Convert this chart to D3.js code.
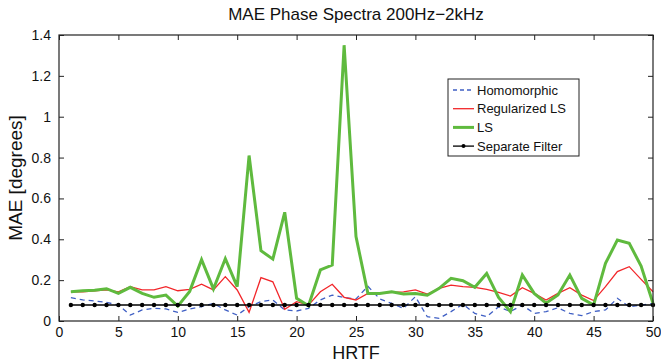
<!DOCTYPE html>
<html><head><meta charset="utf-8">
<script src="https://cdn.jsdelivr.net/npm/d3@7"></script>
<style>body{margin:0;background:#fff}svg{display:block}text{font-family:"Liberation Sans",Arial,sans-serif}</style>
</head><body>
<svg id="c" width="661" height="362"></svg>
<script>
const hrtf = d3.range(1, 51);
const homomorphic = [0.114,0.103,0.098,0.091,0.078,0.029,0.054,0.062,0.059,0.042,
 0.059,0.070,0.086,0.054,0.029,0.070,0.095,0.103,0.054,0.049,
 0.062,0.103,0.127,0.115,0.108,0.170,0.108,0.086,0.062,0.119,
 0.021,0.013,0.046,0.082,0.037,0.021,0.070,0.046,0.078,0.037,
 0.046,0.065,0.037,0.026,0.046,0.054,0.111,0.070,0.078,0.086];
const regularizedLS = [0.143,0.143,0.148,0.152,0.143,0.168,0.152,0.152,0.168,0.148,
 0.155,0.180,0.152,0.217,0.152,0.042,0.212,0.192,0.057,0.095,
 0.078,0.143,0.180,0.116,0.103,0.135,0.135,0.140,0.143,0.152,
 0.132,0.160,0.176,0.168,0.165,0.155,0.140,0.122,0.163,0.135,
 0.103,0.135,0.163,0.127,0.100,0.168,0.242,0.266,0.204,0.143];
const ls = [0.143,0.148,0.150,0.158,0.135,0.165,0.135,0.116,0.127,0.073,
 0.145,0.300,0.157,0.305,0.168,0.810,0.344,0.303,0.532,0.111,
 0.075,0.250,0.274,1.350,0.413,0.135,0.135,0.143,0.132,0.135,
 0.126,0.160,0.209,0.197,0.165,0.233,0.115,0.046,0.225,0.135,
 0.087,0.127,0.225,0.111,0.078,0.282,0.396,0.380,0.269,0.087];
const separateFilter = hrtf.map(() => 0.078);
const xTicks = d3.range(0, 51, 5);
const yTicks = [0, 0.2, 0.4, 0.6, 0.8, 1, 1.2, 1.4];
const seriesNames = ["Homomorphic", "Regularized LS", "LS", "Separate Filter"];

const L = 59, R = 653, T = 35, B = 321;
const svg = d3.select("#c");
const x = d3.scaleLinear().domain([0, 50]).range([L, R]);
const y = d3.scaleLinear().domain([0, 1.4]).range([B, T]);

const fmt = d => d3.format("~g")(d);
svg.append("g").attr("transform", `translate(0,${B})`)
  .call(d3.axisBottom(x).tickValues(xTicks).tickFormat(fmt).tickSizeInner(-5).tickSizeOuter(0).tickPadding(6))
  .call(g => { g.select(".domain").remove(); g.selectAll("text").attr("font-size", 14).attr("fill", "#111"); g.selectAll("line").attr("stroke", "#222"); });
svg.append("g").attr("transform", `translate(0,${T})`)
  .call(d3.axisTop(x).tickValues(xTicks).tickFormat("").tickSizeInner(-5).tickSizeOuter(0))
  .call(g => { g.select(".domain").remove(); g.selectAll("line").attr("stroke", "#222"); });
svg.append("g").attr("transform", `translate(${L},0)`)
  .call(d3.axisLeft(y).tickValues(yTicks).tickFormat(fmt).tickSizeInner(-5).tickSizeOuter(0).tickPadding(8))
  .call(g => { g.select(".domain").remove(); g.selectAll("text").attr("font-size", 14).attr("fill", "#111"); g.selectAll("line").attr("stroke", "#222"); });
svg.append("g").attr("transform", `translate(${R},0)`)
  .call(d3.axisRight(y).tickValues(yTicks).tickFormat("").tickSizeInner(-5).tickSizeOuter(0))
  .call(g => { g.select(".domain").remove(); g.selectAll("line").attr("stroke", "#222"); });

const line = d3.line().x((d, i) => x(hrtf[i])).y(d => y(d));
const plot = svg.append("g");
plot.append("path").datum(homomorphic).attr("d", line).attr("fill", "none")
  .attr("stroke", "#3f5fc4").attr("stroke-width", 1.3).attr("stroke-dasharray", "5,4");
plot.append("path").datum(regularizedLS).attr("d", line).attr("fill", "none")
  .attr("stroke", "#f2262a").attr("stroke-width", 1.3);
plot.append("path").datum(ls).attr("d", line).attr("fill", "none")
  .attr("stroke", "#5fba3e").attr("stroke-width", 3).attr("stroke-linejoin", "miter");
plot.append("path").datum(separateFilter).attr("d", line).attr("fill", "none")
  .attr("stroke", "#000").attr("stroke-width", 1.5);
plot.selectAll("circle.sf").data(separateFilter).join("circle").attr("class", "sf")
  .attr("cx", (d, i) => x(hrtf[i])).attr("cy", d => y(d)).attr("r", 2.2).attr("fill", "#000");

svg.append("rect").attr("x", L).attr("y", T).attr("width", R - L).attr("height", B - T)
  .attr("fill", "none").attr("stroke", "#222").attr("stroke-width", 1.2);

svg.append("text").attr("x", 356).attr("y", 20).attr("text-anchor", "middle")
  .attr("font-size", 17).attr("fill", "#111").text("MAE Phase Spectra 200Hz\u22122kHz");
svg.append("text").attr("x", 356).attr("y", 359).attr("text-anchor", "middle")
  .attr("font-size", 18).attr("fill", "#111").text("HRTF");
svg.append("text").attr("transform", `translate(22,${(T + B) / 2}) rotate(-90)`).attr("text-anchor", "middle")
  .attr("font-size", 19).attr("fill", "#111").text("MAE [degrees]");

const lg = svg.append("g");
lg.append("rect").attr("x", 448).attr("y", 79).attr("width", 131).attr("height", 77)
  .attr("fill", "#fff").attr("stroke", "#222").attr("stroke-width", 1);
const styles = [
  {c: "#3f5fc4", w: 1.3, dash: "4,3"},
  {c: "#f2262a", w: 1.3, dash: null},
  {c: "#5fba3e", w: 3, dash: null},
  {c: "#000", w: 1.3, dash: null, dot: true}
];
seriesNames.forEach((name, i) => {
  const yy = 90 + i * 18.7;
  const s = styles[i];
  lg.append("line").attr("x1", 453).attr("x2", 474).attr("y1", yy).attr("y2", yy)
    .attr("stroke", s.c).attr("stroke-width", s.w).attr("stroke-dasharray", s.dash);
  if (s.dot) lg.append("circle").attr("cx", 463.5).attr("cy", yy).attr("r", 2).attr("fill", "#000");
  lg.append("text").attr("x", 477).attr("y", yy + 4.5).attr("font-size", 13).attr("fill", "#111").text(name);
});
</script>
</body></html>
